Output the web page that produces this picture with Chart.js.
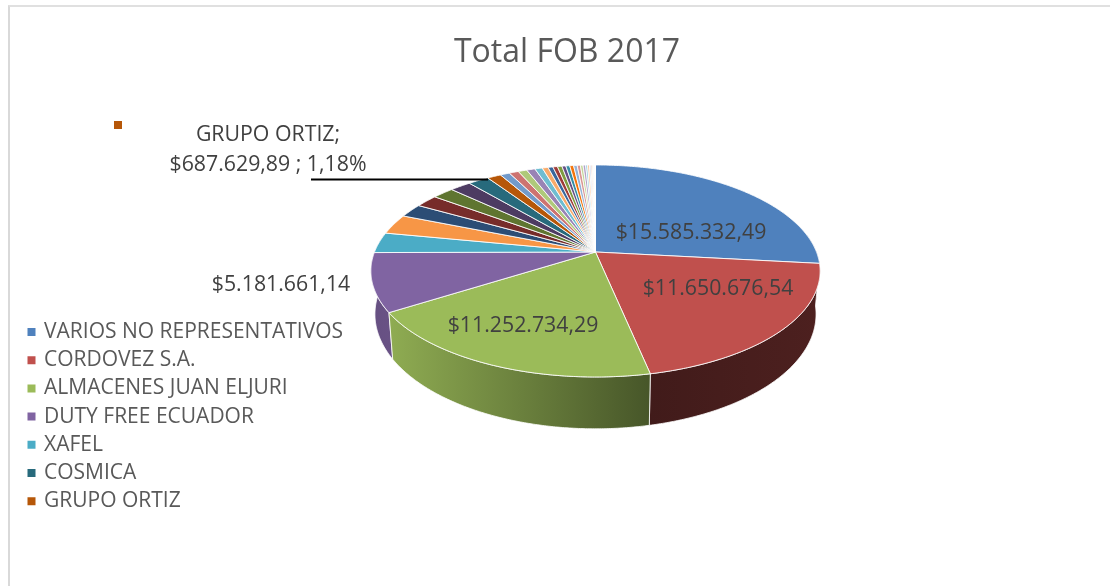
<!DOCTYPE html>
<html>
<head>
<meta charset="utf-8">
<style>
html,body{margin:0;padding:0;background:#fff;overflow:hidden}
#wrap{position:relative;width:1110px;height:586px}
#frame{position:absolute;left:8px;top:5px;right:0;bottom:0;border-left:2px solid #d9d9d9;border-top:2px solid #e0e0e0}
canvas{position:absolute;left:0;top:0}
</style>
<script src="https://cdn.jsdelivr.net/npm/chart.js@4/dist/chart.umd.js"></script>
</head>
<body>
<div id="wrap"><div id="frame"></div><canvas id="c" width="1110" height="586"></canvas></div>
<script>
const titleText = 'Total FOB 2017';
const categories = ['VARIOS NO REPRESENTATIVOS','CORDOVEZ S.A.','ALMACENES JUAN ELJURI','DUTY FREE ECUADOR','XAFEL','','','','','','COSMICA','GRUPO ORTIZ',
  '','','','','','','','','','','','','','','','','','','','','','','','','',''];
const values = [15585332.49,11650676.54,11252734.29,5181661.14,1830000,1781000,1214000,1133000,1068000,1052000,1036000,687629.89,
  470000,468000,437000,421000,372000,291000,243000,227000,225000,194000,193000,192000,178000,162000,130000,128000,97000,95000,73000,65000,57000,32000,24000,19000,16000,13000];
const colors = ['#4F81BD','#C0504D','#9BBB59','#8064A2','#4BACC6','#F79646','#2C4D75','#772C2A','#5F7530','#4D3B62','#276A7C','#B65708',
  '#729ACA','#CD7371','#AFC97A','#9983B5','#6FBDD1','#F9AB6B','#3A679C','#9F3B38','#7F9C40','#664F83','#358EA6','#F3740B',
  '#95B3D7','#D99694','#C3D69B','#B3A2C7','#93CDDD','#FAC090','#B9CDE5','#E6B9B8','#D7E4BC','#CCC1DA','#B7DEE8','#FCD5B5','#DCE6F2','#F2DCDB'];

// Text layout, separate from the data
const valueLabelAt = {0:[691,233],1:[718,289],2:[523,326],3:[281,285]};
const fontFamily = '"Open Sans", sans-serif';
const money = v => '$' + v.toLocaleString('de-DE',{minimumFractionDigits:2,maximumFractionDigits:2});

// Perspective view of the disc
const K = 0.179;
const topRim = {cx:595.5, cy:252, r:221, a:102.6};
const lowRim = {cx:595.5, cy:293.6, r:217, a:111};
const project = (rim, t) => {
  const w = 1 + K*Math.cos(t);
  return [rim.cx + rim.r*Math.sin(t)/w, rim.cy - rim.a*Math.cos(t)/w];
};
const wallShade = {0:[.36,.3],1:[.34,.4],2:[.92,.46],3:[.8,.82],4:[.8,.8]};
const shade = (hex,f) => {
  const n = parseInt(hex.slice(1),16);
  return `rgb(${Math.round((n>>16)*f)},${Math.round(((n>>8)&255)*f)},${Math.round((n&255)*f)})`;
};
const rimPoints = (rim,a,b) => {
  const n = Math.max(1,Math.ceil((b-a)/(Math.PI/360)));
  const out = [];
  for(let i=0;i<=n;i++) out.push(project(rim,a+(b-a)*i/n));
  return out;
};

class Arc3D extends Chart.ArcElement {
  draw(ctx){
    const {startAngle,endAngle} = this.getProps(['startAngle','endAngle']);
    const o = this.options;
    const a = startAngle+Math.PI/2, b = endAngle+Math.PI/2;
    ctx.save();
    ctx.beginPath();
    ctx.moveTo(topRim.cx,topRim.cy);
    rimPoints(topRim,a,b).forEach(p=>ctx.lineTo(p[0],p[1]));
    ctx.closePath();
    ctx.fillStyle = o.backgroundColor;
    ctx.fill();
    ctx.lineWidth = o.borderWidth;
    ctx.strokeStyle = o.borderColor;
    ctx.lineJoin = 'round';
    ctx.stroke();
    ctx.restore();
  }
}
Arc3D.id = 'arc3d';
Arc3D.defaults = Chart.ArcElement.defaults;
Arc3D.defaultRoutes = Chart.ArcElement.defaultRoutes;
Arc3D.descriptors = Chart.ArcElement.descriptors;
class Pie3D extends Chart.PieController {}
Pie3D.id = 'pie3d';
Pie3D.defaults = Object.assign({},Chart.PieController.defaults,{dataElementType:'arc3d'});
Pie3D.overrides = Chart.PieController.overrides;
Chart.register(Arc3D,Pie3D);

const wallsPlugin = {
  id:'walls',
  beforeDatasetsDraw(chart){
    const ctx = chart.ctx;
    const arcs = chart.getDatasetMeta(0).data;
    const lo = Math.PI*80/180, hi = Math.PI*280/180;
    const list = arcs.map((el,i)=>{
      const a = Math.max(el.startAngle+Math.PI/2,lo), b = Math.min(el.endAngle+Math.PI/2,hi);
      return {i,a,b};
    }).filter(s=>s.b>s.a).sort((p,q)=>Math.abs((q.a+q.b)/2-Math.PI)-Math.abs((p.a+p.b)/2-Math.PI));
    list.forEach(({i,a,b})=>{
      const up = rimPoints(topRim,a,b), dn = rimPoints(lowRim,a,b);
      const xs = up.concat(dn).map(p=>p[0]);
      const x0 = Math.min(...xs), x1 = Math.max(...xs);
      const g = ctx.createLinearGradient(x0,0,x1,0);
      const f = wallShade[i] || [.7,.7];
      g.addColorStop(0,shade(colors[i],f[0]));
      g.addColorStop(1,shade(colors[i],f[1]));
      ctx.save();
      ctx.beginPath();
      up.forEach((p,n)=>n?ctx.lineTo(p[0],p[1]):ctx.moveTo(p[0],p[1]));
      dn.reverse().forEach(p=>ctx.lineTo(p[0],p[1]));
      ctx.closePath();
      ctx.fillStyle = g;
      ctx.fill();
      ctx.lineWidth = 1;
      ctx.strokeStyle = 'rgba(255,255,255,.8)';
      ctx.stroke();
      ctx.restore();
    });
  }
};

const layoutPlugin = {
  id:'placeBlocks',
  afterLayout(chart){
    const l = chart.legend;
    const w = l.right-l.left, h = l.bottom-l.top;
    l.left = 22.3; l.right = l.left+w; l.top = 314.3; l.bottom = l.top+h;
    const t = chart.titleBlock;
    const th = t.bottom-t.top;
    t.left = 24; t.right = 1110; t.top = 34; t.bottom = t.top+th;
  }
};

const labelsPlugin = {
  id:'valueLabels',
  afterDatasetsDraw(chart){
    const ctx = chart.ctx;
    ctx.save();
    ctx.font = '21.3px '+fontFamily;
    ctx.fillStyle = '#404040';
    ctx.textAlign = 'center';
    ctx.textBaseline = 'middle';
    Object.keys(valueLabelAt).forEach(i=>{
      const p = valueLabelAt[i];
      ctx.fillText(money(values[i]),p[0],p[1]);
    });
    const g = categories.indexOf('GRUPO ORTIZ');
    const total = values.reduce((s,v)=>s+v,0);
    ctx.fillText(categories[g]+';',268,135);
    ctx.fillText(money(values[g])+' ; '+(values[g]/total*100).toFixed(2).replace('.',',')+'%',268,165);
    ctx.fillStyle = colors[g];
    ctx.fillRect(114,121,8,8);
    ctx.strokeStyle = '#000';
    ctx.lineWidth = 2;
    ctx.beginPath();
    ctx.moveTo(311,179.5);
    ctx.lineTo(488,179.5);
    ctx.stroke();
    ctx.restore();
  }
};

new Chart(document.getElementById('c'),{
  type:'pie3d',
  data:{labels:categories,datasets:[{data:values,backgroundColor:colors,borderColor:'rgba(255,255,255,.85)',borderWidth:1}]},
  plugins:[wallsPlugin,layoutPlugin,labelsPlugin],
  options:{
    responsive:false,
    animation:false,
    events:[],
    plugins:{
      tooltip:{enabled:false},
      title:{display:true,text:titleText,color:'#595959',font:{family:fontFamily,size:32,weight:'normal'},padding:0},
      legend:{
        display:true,position:'left',align:'start',
        labels:{
          filter:item=>{ item.strokeStyle=item.fillStyle; item.lineWidth=4; return item.text!==''; },
          boxWidth:4,boxHeight:4,padding:7.2,color:'#595959',
          font:{family:fontFamily,size:21}
        }
      }
    }
  }
});
</script>
</body>
</html>
